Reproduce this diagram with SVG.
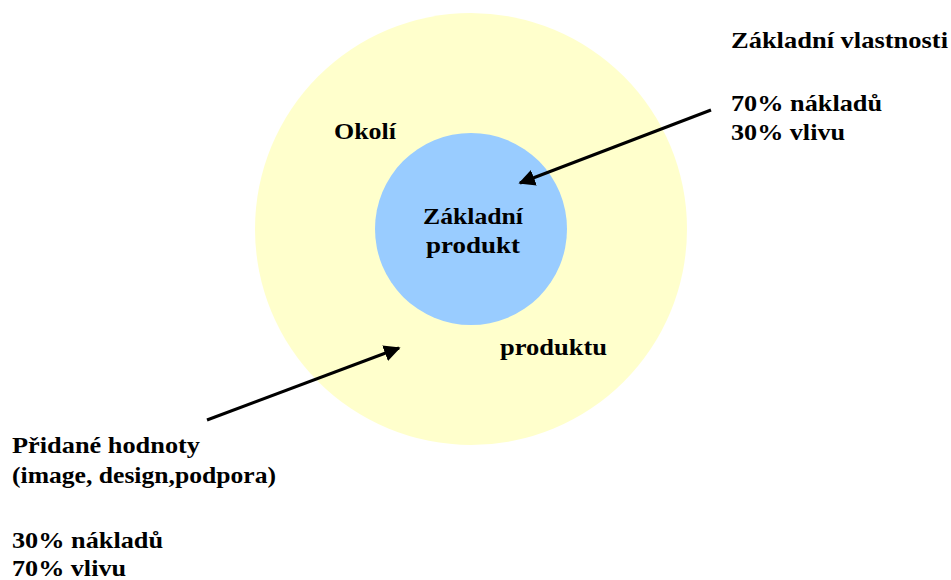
<svg xmlns="http://www.w3.org/2000/svg" width="951" height="580" viewBox="0 0 951 580">
<style>
text{font-family:"Liberation Serif","Times New Roman",serif;font-weight:bold;font-size:23.5px;fill:#000}
.c{text-anchor:middle}
.ln{stroke:#000;stroke-width:3;fill:none}
</style>
<defs>
<marker id="ah" viewBox="0 0 10 10" refX="9" refY="5" markerWidth="5.5" markerHeight="5.5" orient="auto" markerUnits="strokeWidth">
<path d="M0,0 L10,5 L0,10 z" fill="#000"/>
</marker>
</defs>
<rect width="951" height="580" fill="#fff"/>
<g id="outer">
<circle cx="471" cy="229" r="216" fill="#ffffcc"/>
<text x="334" y="139" textLength="62" lengthAdjust="spacingAndGlyphs">Okolí</text>
<text x="500" y="355" textLength="107" lengthAdjust="spacingAndGlyphs">produktu</text>
</g>
<g id="inner">
<circle cx="471" cy="229" r="96" fill="#99ccff"/>
<text class="c" x="473" y="224" textLength="100" lengthAdjust="spacingAndGlyphs">Základní</text>
<text class="c" x="473" y="253" textLength="94" lengthAdjust="spacingAndGlyphs">produkt</text>
</g>
<g id="label-top">
<text x="731" y="48" textLength="217" lengthAdjust="spacingAndGlyphs">Základní vlastnosti</text>
<text x="731" y="111" textLength="151" lengthAdjust="spacingAndGlyphs">70% nákladů</text>
<text x="731" y="140" textLength="114" lengthAdjust="spacingAndGlyphs">30% vlivu</text>
</g>
<g id="label-bottom">
<text x="12" y="453" textLength="188" lengthAdjust="spacingAndGlyphs">Přidané hodnoty</text>
<text x="12" y="483" textLength="264" lengthAdjust="spacingAndGlyphs">(image, design,podpora)</text>
<text x="12" y="548" textLength="151" lengthAdjust="spacingAndGlyphs">30% nákladů</text>
<text x="12" y="576" textLength="114" lengthAdjust="spacingAndGlyphs">70% vlivu</text>
</g>
<g id="connectors">
<line class="ln" x1="711" y1="110" x2="520" y2="183" marker-end="url(#ah)"/>
<line class="ln" x1="207" y1="420" x2="399" y2="348" marker-end="url(#ah)"/>
</g>
</svg>
